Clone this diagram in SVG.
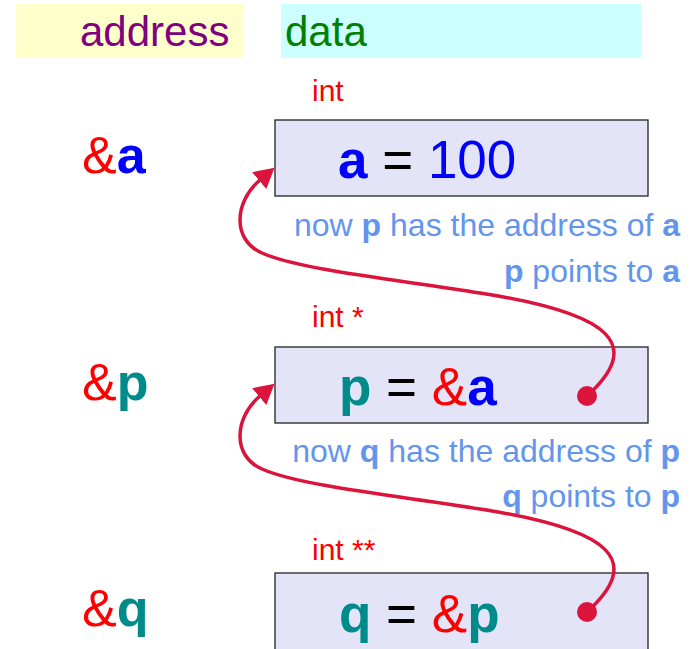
<svg xmlns="http://www.w3.org/2000/svg" width="700" height="649" viewBox="0 0 700 649">
<defs>
<style>
text{font-family:"Liberation Sans",Arial,sans-serif}
.hdr{font-size:42px}
.typ{font-size:30px;fill:#ff0000}
.box{fill:#e4e4f8;stroke:#222;stroke-width:1.3}
.val{font-size:53px}
.adr{font-size:52px}
.note{font-size:32px;fill:#6495ed;text-anchor:end}
.b{font-weight:bold}
.red{fill:#ff0000}
.blue{fill:#0000ff}
.teal{fill:#008b8b}
.blk{fill:#000}
.conn{fill:none;stroke:#dc143c;stroke-width:3.5}
.dot{fill:#dc143c}
</style>
<marker id="ah" markerUnits="userSpaceOnUse" markerWidth="22" markerHeight="24" refX="1" refY="11" orient="auto" viewBox="0 0 22 24">
<path d="M0,0 L20,11 L0,22 z" fill="#dc143c"/>
</marker>
</defs>

<g id="header-address">
<rect x="16" y="4" width="227" height="54" fill="#ffffcc"/>
<text class="hdr" x="80" y="46" fill="#800080">address</text>
</g>
<g id="header-data">
<rect x="281" y="4" width="360" height="54" fill="#ccffff"/>
<text class="hdr" x="285" y="46" fill="#008000">data</text>
</g>

<g id="node-a">
<text class="typ" x="312" y="101">int</text>
<rect class="box" x="275" y="120" width="373" height="76"/>
<text class="val" x="338" y="178"><tspan class="b blue">a</tspan><tspan class="blk"> = </tspan><tspan class="blue">100</tspan></text>
<text class="adr" x="82" y="173"><tspan class="red">&amp;</tspan><tspan class="b blue">a</tspan></text>
<text class="note" x="680" y="236">now <tspan class="b">p</tspan> has the address of <tspan class="b">a</tspan></text>
<text class="note" x="680" y="282"><tspan class="b">p</tspan> points to <tspan class="b">a</tspan></text>
</g>

<g id="node-p">
<text class="typ" x="312" y="327">int *</text>
<rect class="box" x="275" y="347" width="373" height="76"/>
<text class="val" x="339" y="405"><tspan class="b teal">p</tspan><tspan class="blk"> = </tspan><tspan class="red">&amp;</tspan><tspan class="b blue">a</tspan></text>
<text class="adr" x="82" y="400"><tspan class="red">&amp;</tspan><tspan class="b teal">p</tspan></text>
<text class="note" x="680" y="462">now <tspan class="b">q</tspan> has the address of <tspan class="b">p</tspan></text>
<text class="note" x="680" y="507"><tspan class="b">q</tspan> points to <tspan class="b">p</tspan></text>
</g>

<g id="node-q">
<text class="typ" x="312" y="560">int **</text>
<rect class="box" x="275" y="573" width="373" height="90"/>
<text class="val" x="339" y="632"><tspan class="b teal">q</tspan><tspan class="blk"> = </tspan><tspan class="red">&amp;</tspan><tspan class="b teal">p</tspan></text>
<text class="adr" x="82" y="626"><tspan class="red">&amp;</tspan><tspan class="b teal">q</tspan></text>
</g>

<g id="connectors">
<path class="conn" marker-end="url(#ah)" d="M587,396 C642,346 616,314 480,293 C400,280 300,270 262,253 C232,240 234,202 260,180"/>
<circle class="dot" cx="587" cy="396" r="10"/>
<path class="conn" marker-end="url(#ah)" d="M587,612 C642,562 616,530 480,509 C400,496 300,486 262,469 C232,456 234,418 260,396"/>
<circle class="dot" cx="587" cy="612" r="10"/>
</g>
</svg>
